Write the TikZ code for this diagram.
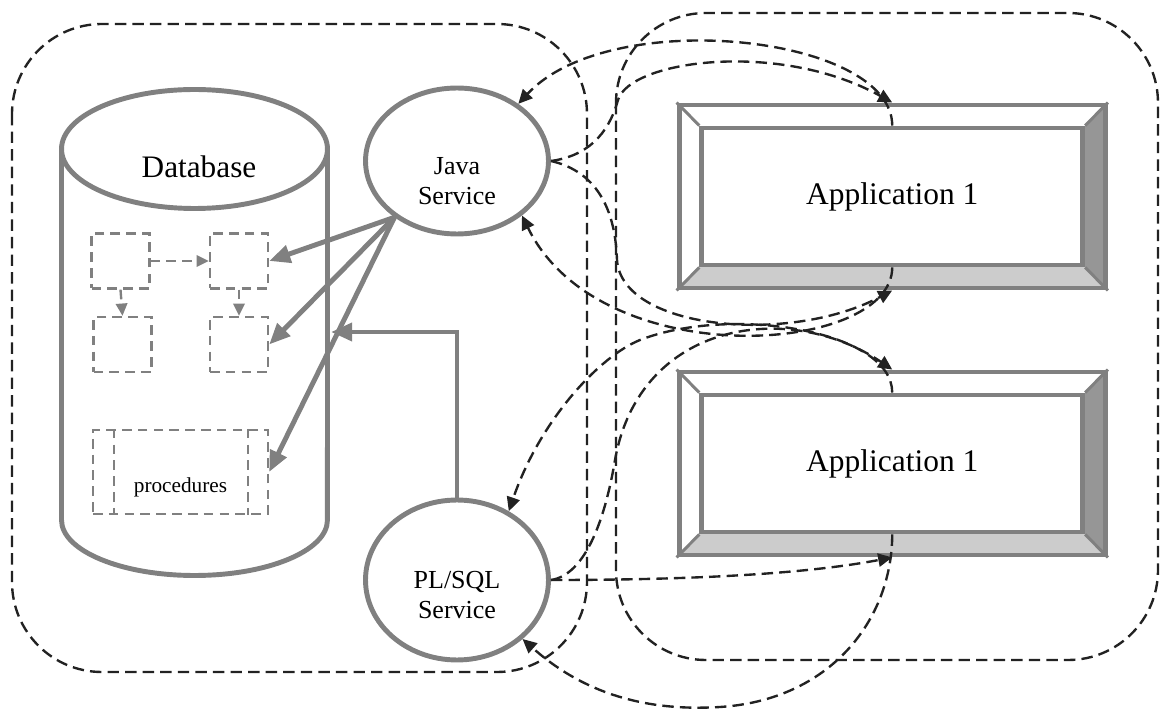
\documentclass[tikz,border=0pt]{standalone}
\usepackage{fontspec}
\setmainfont{Liberation Serif}
\usetikzlibrary{arrows.meta, shapes.geometric, positioning}

\definecolor{shapegray}{HTML}{808080}
\definecolor{bandlight}{HTML}{CCCCCC}
\definecolor{banddark}{HTML}{969696}
\definecolor{linkblack}{HTML}{222222}

\tikzset{
	shapeline/.style={draw=shapegray, line width=2.8pt},
	bevelline/.style={draw=shapegray, line width=1.7pt},
	dashline/.style={line width=1.35pt, dash pattern=on 6.5pt off 3.5pt},
	grouparea/.style={dashline, draw=linkblack, rounded corners=1.8cm},
	linkline/.style={dashline, draw=linkblack, -{Triangle[length=8pt,width=7.5pt]}},
	tableline/.style={draw=shapegray, line width=1.35pt, dash pattern=on 5.5pt off 3.5pt},
	tablebox/.style={tableline, minimum width=1.16cm, minimum height=1.1cm, inner sep=0pt},
	tablelink/.style={tableline, -{Triangle[length=7pt,width=6.5pt]}},
	calllink/.style={shapeline, -{Triangle[length=12pt,width=10pt]}},
	service/.style={shapeline, ellipse, minimum width=3.66cm, inner sep=0pt},
	svclabel/.style={align=center, font=\fontsize{14.8}{17.5}\selectfont},
	appframe/.style={shapeline, minimum width=8.53cm, minimum height=3.66cm, inner sep=0pt},
	appface/.style={shapeline, minimum width=7.62cm, minimum height=2.74cm, inner sep=0pt,
		font=\fontsize{17.9}{21}\selectfont},
}

\begin{document}
\begin{tikzpicture}[x=0.02cm, y=-0.02cm]
	
	\useasboundingbox (0,0) rectangle (1161,709);
	
	% Grouping areas (server side and client side)
	\draw[grouparea] (12,24) rectangle (587,672);
	\draw[grouparea] (616,13) rectangle (1158,660);
	
	% Database cylinder
	\draw[shapeline] (61.5,149) -- (61.5,520)
	arc[start angle=180, end angle=360, x radius=2.66cm, y radius=1.11cm] -- (327.5,149);
	\draw[shapeline] (194.5,149) ellipse [x radius=2.66cm, y radius=1.19cm];
	\node[font=\fontsize{17.8}{20}\selectfont] (db) at (199,167) {Database};
	\coordinate (dbwall) at (331,332);
	
	% Tables inside the database
	\node[tablebox] (tbla) at (120.5,261) {};
	\node[tablebox] (tblb) at (239,261) {};
	\node[tablebox] (tblc) at (122.5,344.5) {};
	\node[tablebox] (tbld) at (239,344.5) {};
	\draw[tablelink] (tbla) -- (tblb);
	\draw[tablelink] (tbla.south) -- (tblc.north);
	\draw[tablelink] (tblb) -- (tbld);
	
	% Stored procedures
	\node[tablebox, minimum width=3.5cm, minimum height=1.68cm,
	label={[font=\fontsize{12.1}{14}\selectfont, yshift=-0.3cm]center:procedures}] (proc) at (180.5,472) {};
	\draw[tableline] ([xshift=0.44cm]proc.north west) -- ([xshift=0.44cm]proc.south west);
	\draw[tableline] ([xshift=-0.42cm]proc.north east) -- ([xshift=-0.42cm]proc.south east);
	
	% Services
	\node[service, minimum height=2.92cm,
	label={[svclabel, yshift=-0.4cm]center:{Java\\Service}}] (java) at (457,161) {};
	\node[service, minimum height=3.2cm,
	label={[svclabel, yshift=-0.3cm]center:{PL/SQL\\Service}}] (plsql) at (457,580) {};
	
	% Calls into the database
	\foreach \t in {tblb, tbld, proc}
	\draw[calllink] (java.222) -- (\t.east);
	\draw[calllink] (plsql.north) |- (dbwall);
	
	% Application boxes with bevelled frame
	\foreach \n/\cy in {appa/196.5, appb/463.5} {
		\fill[bandlight] (679,{\cy+91.5}) -- (1105.5,{\cy+91.5}) -- (1082.5,{\cy+68.5}) -- (701.5,{\cy+68.5}) -- cycle;
		\fill[banddark] (1105.5,{\cy-91.5}) -- (1105.5,{\cy+91.5}) -- (1082.5,{\cy+68.5}) -- (1082.5,{\cy-68.5}) -- cycle;
		\node[appframe] (\n) at (892.25,\cy) {};
		\node[appface] (\n-in) at (892.25,\cy) {Application 1};
		\draw[bevelline] (\n.north west) -- (\n-in.north west) (\n.north east) -- (\n-in.north east)
		(\n.south west) -- (\n-in.south west) (\n.south east) -- (\n-in.south east);
	}
	
	% Java service <-> upper application
	\draw[linkline] (java.east) .. controls (595,155) and (611,125) .. (618,100)
	.. controls (630,60) and (780,40) .. (appa.north);
	\draw[linkline] (appa-in.north) .. controls (892,35) and (610,5) .. (java.43);
	\draw[linkline] (java.east) .. controls (590,170) and (615,200) .. (617,260)
	.. controls (622,330) and (790,345) .. (appa.south);
	\draw[linkline] (appa-in.south) .. controls (892,355) and (600,375) .. (java.-40);
	
	% PL/SQL service <-> lower application
	\draw[linkline] (plsql.east) .. controls (585,575) and (605,520) .. (615,460)
	.. controls (640,320) and (790,300) .. (appb.north);
	\draw[linkline] (appb-in.north) .. controls (892,330) and (730,305) .. (640,340)
	.. controls (600,356) and (540,420) .. (plsql.53);
	\draw[linkline] (plsql.east) .. controls (680,580) and (800,575) .. (appb.south);
	\draw[linkline] (appb-in.south) .. controls (892,620) and (830,700) .. (720,707)
	.. controls (640,712) and (580,690) .. (plsql.-42);
	
\end{tikzpicture}
\end{document}
